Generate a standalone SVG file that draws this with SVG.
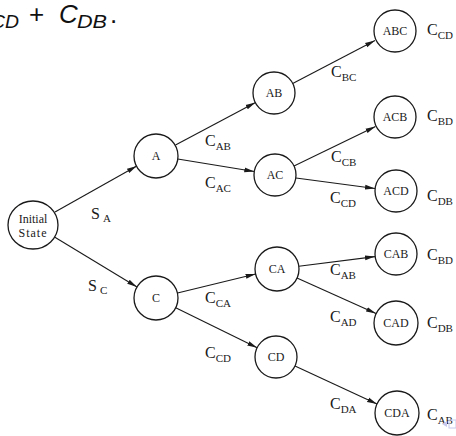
<svg xmlns="http://www.w3.org/2000/svg" width="456" height="436" viewBox="0 0 456 436">
<defs>
<marker id="ah" markerWidth="10" markerHeight="6" refX="10" refY="3" orient="auto" markerUnits="userSpaceOnUse">
<path d="M0,0.6 L10,3 L0,5.4 Z" fill="#1a1a1a"/>
</marker>
</defs>
<style>
.n{fill:#fff;stroke:#1a1a1a;stroke-width:1.3}
.t{font-family:"Liberation Serif",serif;font-size:12px;fill:#1a1a1a;text-anchor:middle}
.l{font-family:"Liberation Serif",serif;font-size:16px;fill:#1a1a1a}
.s{font-size:11px}
.e{stroke:#1a1a1a;stroke-width:1.1;fill:none;marker-end:url(#ah)}
.m{font-family:"Liberation Sans",sans-serif;fill:#111}
</style>
<rect width="456" height="436" fill="#fff"/>
<g id="formula">
<text class="m" font-style="italic" font-size="19" x="-9" y="28" textLength="28" lengthAdjust="spacingAndGlyphs">CD</text>
<text class="m" font-size="26" x="29" y="23">+</text>
<text class="m" font-style="italic" font-size="26" x="59" y="23">C</text>
<text class="m" font-style="italic" font-size="19" x="77" y="28" textLength="30" lengthAdjust="spacingAndGlyphs">DB</text>
<text class="m" font-size="26" x="110" y="23">.</text>
</g>
<g id="connectors">
<line class="e" x1="55" y1="212" x2="136.8" y2="166"/>
<line class="e" x1="54.5" y1="237" x2="137" y2="287"/>
<line class="e" x1="175.5" y1="145" x2="255.5" y2="102.5"/>
<line class="e" x1="177.7" y1="159" x2="254.3" y2="171.5"/>
<line class="e" x1="292.7" y1="83.5" x2="375" y2="40.5"/>
<line class="e" x1="294" y1="166" x2="375.5" y2="126.5"/>
<line class="e" x1="296" y1="178" x2="375" y2="188.5"/>
<line class="e" x1="177.5" y1="293" x2="255.6" y2="274"/>
<line class="e" x1="175.7" y1="307.7" x2="257.2" y2="347.7"/>
<line class="e" x1="298.8" y1="266.2" x2="375" y2="256.6"/>
<line class="e" x1="297" y1="278" x2="376" y2="313.5"/>
<line class="e" x1="295" y1="366" x2="377" y2="404"/>
</g>
<g id="n-init"><ellipse class="n" cx="33" cy="225" rx="25" ry="24"/><text class="t" x="33" y="223">Initial</text><text class="t" x="33" y="237" letter-spacing="1">State</text></g>
<g id="n-A"><circle class="n" cx="156" cy="156" r="22"/><text class="t" x="156" y="160">A</text></g>
<g id="n-C"><circle class="n" cx="156" cy="298" r="22"/><text class="t" x="156" y="302">C</text></g>
<g id="n-AB"><circle class="n" cx="274" cy="93" r="21"/><text class="t" x="274" y="97">AB</text></g>
<g id="n-AC"><circle class="n" cx="275" cy="175" r="21"/><text class="t" x="275" y="179">AC</text></g>
<g id="n-CA"><circle class="n" cx="277" cy="269" r="22"/><text class="t" x="277" y="273">CA</text></g>
<g id="n-CD"><circle class="n" cx="276" cy="357" r="21"/><text class="t" x="276" y="361">CD</text></g>
<g id="n-ABC"><circle class="n" cx="395" cy="31" r="21"/><text class="t" x="395" y="35">ABC</text></g>
<g id="n-ACB"><circle class="n" cx="395" cy="117" r="21"/><text class="t" x="395" y="121">ACB</text></g>
<g id="n-ACD"><circle class="n" cx="396" cy="191" r="21"/><text class="t" x="396" y="195">ACD</text></g>
<g id="n-CAB"><circle class="n" cx="396" cy="254" r="21"/><text class="t" x="396" y="258">CAB</text></g>
<g id="n-CAD"><circle class="n" cx="396" cy="323" r="22"/><text class="t" x="396" y="327">CAD</text></g>
<g id="n-CDA"><circle class="n" cx="397" cy="413" r="22"/><text class="t" x="397" y="417">CDA</text></g>
<g id="labels">
<text class="l" x="91" y="219">S<tspan class="s" dx="3" dy="3">A</tspan></text>
<text class="l" x="88" y="291">S<tspan class="s" dx="3" dy="3">C</tspan></text>
<text class="l" x="205" y="146">C<tspan class="s" dy="4">AB</tspan></text>
<text class="l" x="205" y="188">C<tspan class="s" dy="4">AC</tspan></text>
<text class="l" x="331" y="77">C<tspan class="s" dy="4">BC</tspan></text>
<text class="l" x="331" y="162">C<tspan class="s" dy="4">CB</tspan></text>
<text class="l" x="330" y="203">C<tspan class="s" dy="4">CD</tspan></text>
<text class="l" x="427" y="35">C<tspan class="s" dy="4">CD</tspan></text>
<text class="l" x="427" y="121">C<tspan class="s" dy="4">BD</tspan></text>
<text class="l" x="427" y="201">C<tspan class="s" dy="4">DB</tspan></text>
<text class="l" x="205" y="303">C<tspan class="s" dy="4">CA</tspan></text>
<text class="l" x="330" y="275">C<tspan class="s" dy="4">AB</tspan></text>
<text class="l" x="330" y="322">C<tspan class="s" dy="4">AD</tspan></text>
<text class="l" x="205" y="358">C<tspan class="s" dy="4">CD</tspan></text>
<text class="l" x="330" y="409">C<tspan class="s" dy="4">DA</tspan></text>
<text class="l" x="427" y="260">C<tspan class="s" dy="4">BD</tspan></text>
<text class="l" x="427" y="328">C<tspan class="s" dy="4">DB</tspan></text>
<text class="l" x="427" y="420">C<tspan class="s" dy="4">AB</tspan></text>
</g>
<g id="nav" fill="#c8c8ee" stroke="none">
<path d="M442,424 L447,421 L447,427 Z"/>
<rect x="449" y="420" width="7" height="8" fill="none" stroke="#c8c8ee" stroke-width="1"/>
</g>
</svg>
